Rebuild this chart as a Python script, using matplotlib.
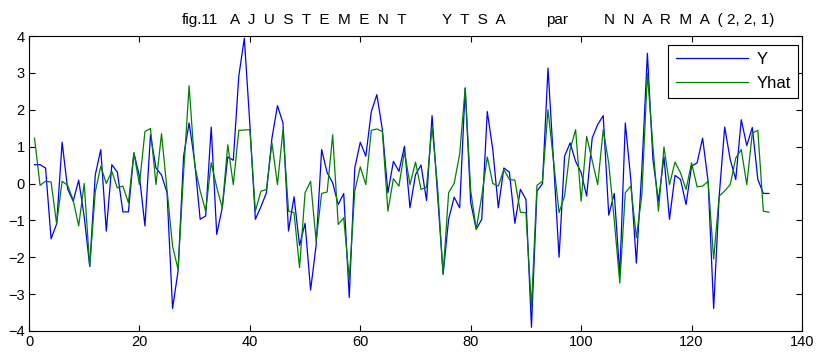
import matplotlib
matplotlib.use("Agg")
import matplotlib.pyplot as plt
import numpy as np

plt.rcParams['font.family'] = ['Liberation Sans', 'DejaVu Sans']

title_parts = ["fig.11", "A  J  U  S  T  E  M  E  N  T", "Y  T  S  A", "par",
               "N  N  A  R  M  A  ( 2, 2, 1)"]
title_left_px = [182, 230, 442, 546, 604]
series_labels = ["Y", "Yhat"]
x_ticks = [0, 20, 40, 60, 80, 100, 120, 140]
y_ticks = [-4, -3, -2, -1, 0, 1, 2, 3, 4]

Y = [0.51, 0.51, 0.42, -1.5, -1.1, 1.12, -0.15, -0.48, 0.09, -0.9,
     -2.25, 0.23, 0.92, -1.29, 0.51, 0.31, -0.77, -0.77, 0.83, 0.2,
     -1.15, 1.32, 0.42, 0.23, -0.25, -3.39, -2.37, 0.74, 1.64, 0.6,
     -0.97, -0.88, 1.53, -1.38, -0.66, 0.72, 0.63, 2.92, 3.94, 1.6,
     -0.97, -0.63, -0.25, 1.23, 2.11, 1.64, -1.29, -0.36, -1.68, -1.08,
     -2.89, -1.68, 0.92, 0.29, 0.02, -0.57, -0.27, -3.09, 0.42, 1.12,
     0.74, 1.95, 2.41, 1.46, -0.25, 0.6, 0.33, 1.01, -0.66, 0.24,
     0.5, -0.46, 1.84, -0.3, -2.46, -0.97, -0.37, -0.66, 2.59, -0.52,
     -1.24, -0.97, 1.95, 0.92, -0.66, 0.42, 0.31, -1.08, -0.16, -0.43,
     -3.9, -0.21, 0.0, 3.13, 0.6, -2.0, 0.74, 1.1, 0.6, 0.3,
     -0.34, 1.23, 1.6, 1.84, -0.86, -0.27, -2.49, 1.64, 0.1, -2.16,
     0.4, 3.53, 0.65, -0.48, 0.72, -0.97, 0.22, 0.11, -0.57, 0.47,
     0.56, 1.23, 0.05, -3.39, -0.34, 1.53, 0.65, 0.11, 1.73, 1.03,
     1.52, 0.11, -0.27, -0.27]

Yhat = [1.23, -0.05, 0.06, 0.04, -1.09, 0.06, -0.05, -0.45, -1.15, 0.0,
        -2.25, -0.23, 0.47, 0.0, 0.33, -0.12, -0.07, -0.52, 0.83, -0.03,
        1.41, 1.49, -0.03, 1.35, -0.16, -1.7, -2.33, 0.29, 2.65, 0.5,
        -0.2, -0.75, 0.56, -0.1, -0.66, 1.05, -0.03, 1.44, 1.45, 1.46,
        -0.75, -0.21, -0.16, 1.1, -0.03, 1.46, -0.75, -0.79, -2.28, -0.25,
        0.06, -1.56, -0.27, -0.23, 1.32, -1.11, -0.93, -2.6, -0.21, 0.45,
        -0.03, 1.44, 1.48, 1.41, -0.75, 0.13, -0.07, 0.87, -0.03, 0.58,
        -0.16, -0.1, 1.55, -0.1, -2.46, -0.25, 0.0, 0.8, 2.59, -0.2,
        -1.24, -0.34, 0.72, 0.0, -0.07, 0.38, 0.11, 0.09, -0.78, -0.79,
        -3.36, -0.05, 0.06, 2.0, 0.6, -0.79, -0.34, 0.92, 1.46, -0.48,
        1.28, 0.62, -0.03, 1.46, 0.55, -1.0, -2.7, -0.25, -0.07, -1.47,
        -0.3, 2.99, 1.0, -0.75, 0.99, -0.03, 0.58, 0.29, -0.16, 0.56,
        -0.09, -0.07, 0.06, -2.05, -0.34, -0.2, -0.03, 0.69, 0.92, -0.03,
        1.37, 1.44, -0.75, -0.78]

x = np.arange(1, len(Y) + 1)

W, H = 821, 356
fig = plt.figure(figsize=(W / 100, H / 100), dpi=100)
ax = fig.add_axes([29 / W, 1 - 331 / H, (802 - 29) / W, (331 - 36) / H])
ax.plot(x, Y, color=(0, 0, 1), lw=0.9, label=series_labels[0])
ax.plot(x, Yhat, color=(0, 0.5, 0), lw=0.9, label=series_labels[1])
ax.set_xlim(0, 140)
ax.set_ylim(-4, 4)
ax.set_xticks(x_ticks)
ax.set_yticks(y_ticks)
ax.tick_params(direction='in', top=True, right=True, length=4, width=0.8,
               labelsize=10.5, pad=3)
for s in ax.spines.values():
    s.set_linewidth(0.8)

for part, lx in zip(title_parts, title_left_px):
    fig.text(lx / W, 1 - 24 / H, part, fontsize=11, ha='left', va='baseline')

leg = ax.legend(loc='upper right',
                bbox_to_anchor=((798 - 29) / 773, (331 - 45) / 295),
                borderaxespad=0, fontsize=12, fancybox=False,
                edgecolor='black', framealpha=1, handlelength=4.35,
                borderpad=0.43, labelspacing=0.52, handletextpad=0.5)
leg.get_frame().set_linewidth(0.8)
fig.savefig("out.png", dpi=100)
